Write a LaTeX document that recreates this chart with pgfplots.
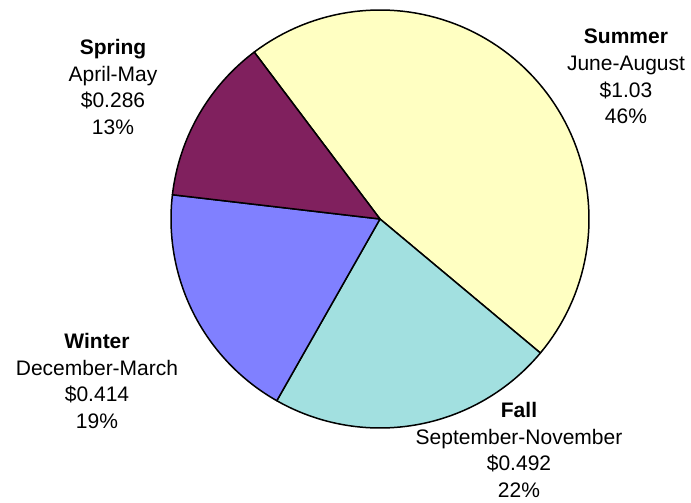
\documentclass[border=0pt]{standalone}
\usepackage{fontspec}
\setmainfont{Liberation Sans}
\usepackage{pgfplots}
\pgfplotsset{compat=1.18}
\definecolor{cSummer}{HTML}{FFFFC2}
\definecolor{cFall}{HTML}{A2E0E0}
\definecolor{cWinter}{HTML}{8080FF}
\definecolor{cSpring}{HTML}{80205E}
% values (dollars)
\def\vSummer{1.03}
\def\vFall{0.492}
\def\vWinter{0.414}
\def\vSpring{0.286}
\begin{document}
\begin{tikzpicture}
\pgfmathsetmacro{\tot}{\vSummer+\vFall+\vWinter+\vSpring}
\pgfmathsetmacro{\aA}{127}
\pgfmathsetmacro{\aB}{\aA-360*\vSummer/\tot}
\pgfmathsetmacro{\aC}{\aB-360*\vFall/\tot}
\pgfmathsetmacro{\aD}{\aC-360*\vWinter/\tot}
\pgfmathsetmacro{\aE}{\aD-360*\vSpring/\tot}
\begin{axis}[
  width=691pt, height=503pt, scale only axis,
  xmin=0, xmax=691, ymin=0, ymax=503,
  hide axis, clip=false,
]
\path (0,0) rectangle (691,503);
\addplot[fill=cSummer, draw=black, line width=1.5pt, line join=round, domain=\aB:\aA, samples=90, variable=\t]
  ({380+209*cos(t)},{284+209*sin(t)}) -- (380,284) -- cycle;
\addplot[fill=cFall, draw=black, line width=1.5pt, line join=round, domain=\aC:\aB, samples=60, variable=\t]
  ({380+209*cos(t)},{284+209*sin(t)}) -- (380,284) -- cycle;
\addplot[fill=cWinter, draw=black, line width=1.5pt, line join=round, domain=\aD:\aC, samples=50, variable=\t]
  ({380+209*cos(t)},{284+209*sin(t)}) -- (380,284) -- cycle;
\addplot[fill=cSpring, draw=black, line width=1.5pt, line join=round, domain=\aE:\aD, samples=40, variable=\t]
  ({380+209*cos(t)},{284+209*sin(t)}) -- (380,284) -- cycle;
\tikzset{lab/.style={anchor=north, align=center, inner sep=0pt, font=\fontsize{21}{26.6}\selectfont}}
\node[lab] at (113,464) {\textbf{Spring}\\April-May\\\$0.286\\13\%};
\node[lab] at (626,474) {\textbf{Summer}\\June-August\\\$1.03\\46\%};
\node[lab] at (97,170) {\textbf{Winter}\\December-March\\\$0.414\\19\%};
\node[lab] at (519,101) {\textbf{Fall}\\September-November\\\$0.492\\22\%};
\end{axis}
\end{tikzpicture}
\end{document}
